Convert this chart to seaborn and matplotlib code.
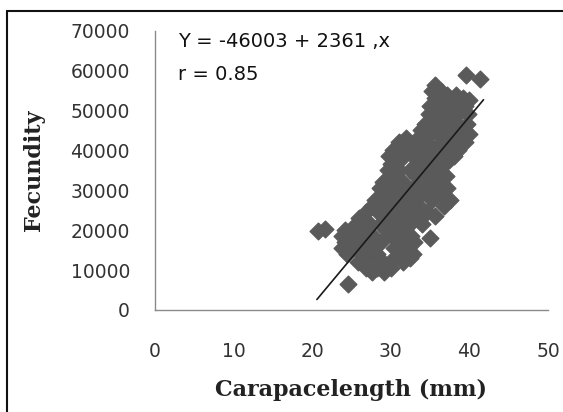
import numpy as np
import pandas as pd
import matplotlib
matplotlib.use('Agg')
import matplotlib.pyplot as plt
from matplotlib.lines import Line2D
import seaborn as sns

# carapace length (mm)
carapace = [
    39.6, 41.3,
    35.6,
    35.2, 36.4,
    37.2, 38.3,
    35.6, 39.2,
    36.8, 38.0, 40.0,
    35.0, 39.5,
    36.2, 37.6,
    34.8, 38.6, 39.8,
    36.0, 37.2,
    34.3, 35.5, 37.0, 38.4, 39.7,
    33.8, 36.2, 39.0,
    35.0, 37.5, 40.0,
    32.0, 33.5, 36.5, 38.6,
    31.0, 34.6, 37.8, 39.4,
    32.6, 36.0,
    30.3, 31.8, 33.8, 35.4, 37.0, 38.6,
    29.8, 32.8, 34.6, 36.2, 38.0,
    31.2, 37.4,
    30.0, 33.6, 35.4, 36.8,
    29.6, 31.0, 32.4, 34.0, 36.2,
    30.2, 33.2, 35.2, 37.0,
    29.0, 31.6, 34.2, 36.0,
    28.6, 30.2, 32.8, 35.0, 37.2,
    29.4, 31.4, 33.8, 36.4,
    28.0, 30.6, 32.4, 35.2, 37.5,
    27.6, 29.4, 31.2, 33.6, 36.8,
    26.8, 28.4, 30.4, 32.6, 34.6,
    35.6,
    26.0, 29.4, 31.6, 33.4,
    25.6, 27.4, 28.6, 30.6, 32.4, 34.0,
    20.8, 21.6, 24.2, 26.6, 29.4, 31.2,
    23.8, 25.4, 27.8, 30.2, 32.6,
    35.0,
    24.2, 26.4, 28.8, 31.4, 33.0,
    23.8, 25.2, 27.6, 30.4, 32.2,
    24.4, 26.4, 28.2, 31.4, 32.8,
    27.2, 30.4, 32.4,
    25.8, 29.0, 31.6,
    26.8, 28.2, 30.0,
    27.6, 29.2,
    24.5,
]

# fecundity (thousands of eggs), same order
fecundity_k = [
    59.0, 58.0,
    56.5,
    55.0, 55.0,
    54.0, 54.0,
    53.0, 53.0,
    52.5, 52.5, 52.5,
    51.0, 51.0,
    50.5, 50.5,
    49.0, 49.0, 49.0,
    48.0, 48.0,
    46.5, 46.5, 46.5, 46.5, 46.5,
    45.0, 45.0, 45.0,
    44.0, 44.0, 44.0,
    43.0, 43.0, 43.0, 43.0,
    42.0, 42.0, 42.0, 42.0,
    41.0, 41.0,
    40.0, 40.0, 40.0, 40.0, 40.0, 40.0,
    38.5, 38.5, 38.5, 38.5, 38.5,
    37.5, 37.5,
    36.5, 36.5, 36.5, 36.5,
    35.0, 35.0, 35.0, 35.0, 35.0,
    33.5, 33.5, 33.5, 33.5,
    32.0, 32.0, 32.0, 32.0,
    30.5, 30.5, 30.5, 30.5, 30.5,
    29.0, 29.0, 29.0, 29.0,
    27.5, 27.5, 27.5, 27.5, 27.5,
    26.0, 26.0, 26.0, 26.0, 26.0,
    24.5, 24.5, 24.5, 24.5, 24.5,
    23.5,
    23.0, 23.0, 23.0, 23.0,
    21.5, 21.5, 21.5, 21.5, 21.5, 21.5,
    19.7, 20.3, 20.0, 20.0, 20.0, 20.0,
    18.5, 18.5, 18.5, 18.5, 18.5,
    18.0,
    17.0, 17.0, 17.0, 17.0, 17.0,
    15.5, 15.5, 15.5, 15.5, 15.5,
    14.0, 14.0, 14.0, 14.0, 14.0,
    13.0, 13.0, 13.0,
    12.0, 12.0, 12.0,
    10.5, 10.5, 10.5,
    9.5, 9.5,
    6.5,
]

# regression reported in the chart
intercept = -46003
slope = 2361
r_value = 0.85

x_ticks = [0, 10, 20, 30, 40, 50]
y_ticks = [0, 10000, 20000, 30000, 40000, 50000, 60000, 70000]

df = pd.DataFrame({'length': carapace,
                   'fecundity': np.array(fecundity_k) * 1000})

sns.set_style('white')

fig = plt.figure(figsize=(5.63, 4.12), dpi=100)
ax = fig.add_axes([0.2753, 0.2476, 0.698, 0.678])

# thin edge in the fill colour closes the seams between touching diamonds
sns.scatterplot(data=df, x='length', y='fecundity', marker='D', s=72,
                color='#5a5a5a', edgecolor='#5a5a5a', linewidth=1.0, alpha=1,
                ax=ax, zorder=2)

# fitted line over the range of the data
fit = pd.DataFrame({'length': [df['length'].min() - 0.2, df['length'].max() + 0.5]})
fit['fecundity'] = intercept + slope * fit['length']
sns.lineplot(data=fit, x='length', y='fecundity', color='#1a1a1a', lw=1.2,
             ax=ax, zorder=3)

ax.set_xlim(0, 50)
ax.set_ylim(0, 70000)
ax.set_xticks(x_ticks)
ax.set_yticks(y_ticks)
ax.set_xticklabels([str(t) for t in x_ticks])
ax.set_yticklabels([str(t) for t in y_ticks])

for side in ['top', 'right']:
    ax.spines[side].set_visible(False)
for side in ['left', 'bottom']:
    ax.spines[side].set_color('#8a8a8a')
    ax.spines[side].set_linewidth(1.0)

ax.tick_params(axis='both', direction='out', length=6, width=1,
               color='#8a8a8a', labelsize=13.5, labelcolor='#333333')
ax.tick_params(axis='x', pad=17)
ax.tick_params(axis='y', pad=12)
for lab in ax.get_xticklabels() + ax.get_yticklabels():
    lab.set_family('DejaVu Sans')

ax.set_xlabel('Carapacelength (mm)', fontsize=16, fontweight='bold',
              family='DejaVu Serif', color='#222222', labelpad=13)
ax.set_ylabel('Fecundity', fontsize=16, fontweight='bold',
              family='DejaVu Serif', color='#222222', labelpad=18)

ax.text(2.9, 67200, 'Y = -46003 + %d ,x' % slope, fontsize=14,
        family='DejaVu Sans', color='#111111', va='center', ha='left')
ax.text(2.9, 58900, 'r = %.2f' % r_value, fontsize=14,
        family='DejaVu Sans', color='#111111', va='center', ha='left')

# outer frame lines (top and left edges of the original chart box)
fig.add_artist(Line2D([0.0124, 1.0], [0.9733, 0.9733], color='#111111', lw=1.5))
fig.add_artist(Line2D([0.0124, 0.0124], [0.0, 0.9733], color='#111111', lw=1.5))

fig.savefig('out.png', dpi=100)
